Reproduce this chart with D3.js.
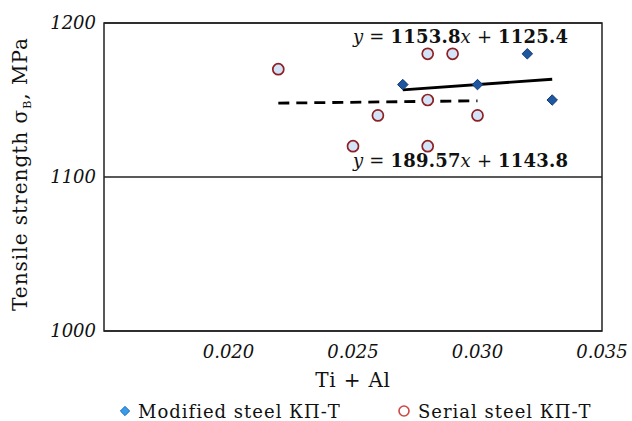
<!DOCTYPE html>
<html>
<head>
<meta charset="utf-8">
<script src="https://cdn.jsdelivr.net/npm/d3@7"></script>
<style>
  body { margin: 0; background: #fff; }
  text { font-family: "DejaVu Serif", serif; fill: #111; }
</style>
</head>
<body>
<script>
// modified steel (diamonds)
var modX = [0.027, 0.030, 0.032, 0.033]
var modY = [1160, 1160, 1180, 1150]
// serial steel (circles)
var serX = [0.022, 0.025, 0.026, 0.028, 0.028, 0.028, 0.029, 0.030]
var serY = [1170, 1120, 1140, 1180, 1150, 1120, 1180, 1140]
// trend lines: [slope, intercept, x from, x to]
var modTrend = [1153.8, 1125.4, 0.027, 0.033]
var serTrend = [189.57, 1143.8, 0.022, 0.030]
var xTicks = [0.020, 0.025, 0.030, 0.035]
var yTicks = [1000, 1100, 1200]

var width = 632, height = 421
var margin = {left: 104, right: 30, top: 23, bottom: 90}

var svg = d3.select("body").append("svg")
    .attr("width", width)
    .attr("height", height)

var x = d3.scaleLinear().domain([0.015, 0.035]).range([margin.left, width - margin.right])
var y = d3.scaleLinear().domain([1000, 1200]).range([height - margin.bottom, margin.top])

// gridlines
svg.append("g")
    .selectAll("line")
    .data(yTicks)
    .enter().append("line")
    .attr("x1", x(0.015)).attr("x2", x(0.035))
    .attr("y1", d => y(d)).attr("y2", d => y(d))
    .attr("stroke", "#222").attr("stroke-width", 1.3)

// plot frame
svg.append("rect")
    .attr("x", x(0.015)).attr("y", y(1200))
    .attr("width", x(0.035) - x(0.015)).attr("height", y(1000) - y(1200))
    .attr("fill", "none").attr("stroke", "#222").attr("stroke-width", 1.5)

// y tick labels
svg.append("g")
    .selectAll("text")
    .data(yTicks)
    .enter().append("text")
    .attr("x", x(0.015) - 8)
    .attr("y", d => y(d) + 6)
    .attr("text-anchor", "end")
    .attr("font-style", "italic")
    .attr("font-size", 18)
    .text(d => d)

// x tick labels
svg.append("g")
    .selectAll("text")
    .data(xTicks)
    .enter().append("text")
    .attr("x", d => x(d))
    .attr("y", y(1000) + 27)
    .attr("text-anchor", "middle")
    .attr("font-style", "italic")
    .attr("font-size", 18)
    .text(d => d3.format(".3f")(d))

// axis titles
svg.append("text")
    .attr("x", (x(0.015) + x(0.035)) / 2)
    .attr("y", 387)
    .attr("text-anchor", "middle")
    .attr("font-size", 20)
    .attr("letter-spacing", 0.8)
    .text("Ti + Al")

var yt = svg.append("text")
    .attr("transform", "translate(27," + 174 + ") rotate(-90)")
    .attr("text-anchor", "middle")
    .attr("font-size", 20)
    .attr("letter-spacing", 1)
yt.append("tspan").text("Tensile strength σ")
yt.append("tspan").attr("font-size", 11).attr("dy", 4).text("B")
yt.append("tspan").attr("dy", -4).text(", MPa")

// trend lines
function trend(t) {
    return [[t[2], t[0] * t[2] + t[1]], [t[3], t[0] * t[3] + t[1]]]
}
var line = d3.line().x(d => x(d[0])).y(d => y(d[1]))

svg.append("path")
    .attr("d", line(trend(modTrend)))
    .attr("stroke", "#000").attr("stroke-width", 2.8).attr("fill", "none")

svg.append("path")
    .attr("d", line(trend(serTrend)))
    .attr("stroke", "#000").attr("stroke-width", 2.8).attr("fill", "none")
    .attr("stroke-dasharray", "11,7")

// serial points
svg.append("g")
    .selectAll("circle")
    .data(serX.map((d, i) => [d, serY[i]]))
    .enter().append("circle")
    .attr("cx", d => x(d[0])).attr("cy", d => y(d[1]))
    .attr("r", 5.5)
    .attr("fill", "#d4e4f8").attr("stroke", "#8e1f22").attr("stroke-width", 1.7)

// modified points
var diamond = d3.symbol().type(d3.symbolDiamond2).size(70)
svg.append("g")
    .selectAll("path")
    .data(modX.map((d, i) => [d, modY[i]]))
    .enter().append("path")
    .attr("transform", d => "translate(" + x(d[0]) + "," + y(d[1]) + ")")
    .attr("d", diamond)
    .attr("fill", "#1d57a0").attr("stroke", "#123a70").attr("stroke-width", 1)

// equations
function eq(sel, t, px, py) {
    var e = sel.append("text").attr("x", px).attr("y", py)
        .attr("font-size", 18).attr("letter-spacing", 0.2)
    e.append("tspan").attr("font-style", "italic").text("y")
    e.append("tspan").text(" = ")
    e.append("tspan").attr("font-weight", "bold").text(t[0])
    e.append("tspan").attr("font-style", "italic").text("x")
    e.append("tspan").text(" + ")
    e.append("tspan").attr("font-weight", "bold").text(t[1])
}
eq(svg, modTrend, 353, 43)
eq(svg, serTrend, 353, 167)

// legend
var lg = svg.append("g")
lg.append("path")
    .attr("transform", "translate(125,411)")
    .attr("d", d3.symbol().type(d3.symbolDiamond2).size(55))
    .attr("fill", "#3a9be6").attr("stroke", "#1c6fc0").attr("stroke-width", 1)
lg.append("text").attr("x", 138).attr("y", 418).attr("font-size", 18)
    .attr("letter-spacing", 1).text("Modified steel КП-Т")
lg.append("circle")
    .attr("cx", 404).attr("cy", 411).attr("r", 5)
    .attr("fill", "#fff").attr("stroke", "#d04545").attr("stroke-width", 1.6)
lg.append("text").attr("x", 418).attr("y", 418).attr("font-size", 18)
    .attr("letter-spacing", 1).text("Serial steel КП-Т")
</script>
</body>
</html>
